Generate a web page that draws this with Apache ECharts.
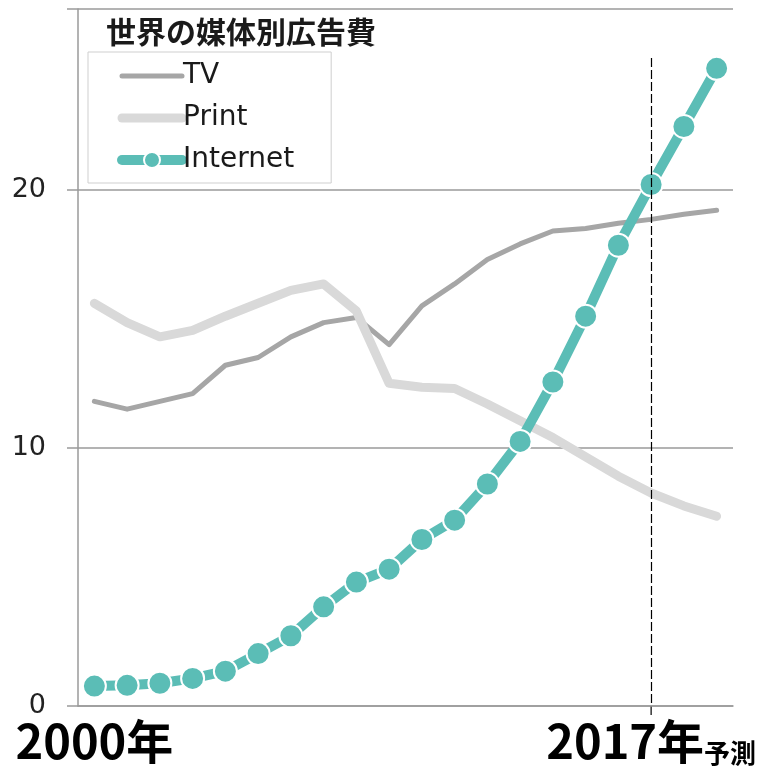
<!DOCTYPE html>
<html>
<head>
<meta charset="utf-8">
<script src="https://cdn.jsdelivr.net/npm/echarts@6/dist/echarts.min.js"></script>
<style>
  html, body { margin: 0; padding: 0; background: #fff; }
  #chart { width: 763px; height: 766px; }
</style>
</head>
<body>
<div id="chart"></div>
<script>
// 世界の媒体別広告費
const years = ['2000','2001','2002','2003','2004','2005','2006','2007','2008','2009',
               '2010','2011','2012','2013','2014','2015','2016','2017','2018','2019'];
const tvValues = [11.8, 11.5, 11.8, 12.1, 13.2, 13.5, 14.3, 14.85, 15.05, 14.0,
                  15.5, 16.35, 17.3, 17.9, 18.4, 18.5, 18.7, 18.85, 19.05, 19.2];
const printValues = [15.6, 14.85, 14.3, 14.55, 15.1, 15.6, 16.1, 16.35, 15.3, 12.5,
                     12.35, 12.3, 11.7, 11.05, 10.4, 9.65, 8.9, 8.25, 7.75, 7.35];
const internetValues = [0.77, 0.8, 0.88, 1.07, 1.35, 2.03, 2.72, 3.84, 4.8, 5.3,
                        6.45, 7.2, 8.6, 10.25, 12.55, 15.1, 17.85, 20.2, 22.45, 24.7];
const yTicks = [0, 10, 20];
const forecastYear = '2017';
const titleText = '世界の媒体別広告費';

const chart = echarts.init(document.getElementById('chart'));
const latin = '"DejaVu Sans", "Noto Sans CJK JP", sans-serif';
const cjk = '"Noto Sans CJK JP", "DejaVu Sans", sans-serif';

chart.setOption({
  animation: false,
  backgroundColor: '#ffffff',
  title: {
    text: titleText,
    left: 236, top: 12, textAlign: 'center',
    textStyle: { fontFamily: cjk, fontWeight: 'bold', fontSize: 30, color: '#1a1a1a' }
  },
  legend: {
    orient: 'vertical',
    left: 88, top: 52,
    padding: [8, 37, 7, 29],
    itemGap: 10,
    itemWidth: 60, itemHeight: 20,
    borderColor: '#cfcfcf', borderWidth: 1,
    lineStyle: { width: 'inherit', cap: 'round' },
    textStyle: { fontFamily: latin, fontSize: 28, color: '#1a1a1a', lineHeight: 32, padding: [0, 0, 0, -4] },
    data: [
      { name: 'TV', itemStyle: { opacity: 0 } },
      { name: 'Print', itemStyle: { opacity: 0 } },
      { name: 'Internet' }
    ]
  },
  grid: { left: 78, right: 30, top: 9, bottom: 54, containLabel: false },
  xAxis: {
    type: 'category',
    data: years,
    boundaryGap: true,
    axisLine: { show: true, lineStyle: { color: '#9a9a9a', width: 1.5 } },
    axisTick: { show: false },
    axisLabel: {
      interval: 0,
      margin: 10,
      formatter: function (v) {
        if (v === years[0]) return '{big|' + v + '年}';
        if (v === forecastYear) return '{big|' + v + '年}{small|予測}';
        return '';
      },
      rich: {
        big: { fontFamily: cjk, fontWeight: 'bold', fontSize: 47, color: '#000', lineHeight: 50 },
        small: { fontFamily: cjk, fontWeight: 'bold', fontSize: 26, color: '#000', verticalAlign: 'bottom', lineHeight: 40 }
      }
    }
  },
  yAxis: {
    type: 'value',
    min: 0, max: 27, interval: 10,
    axisLine: { show: true, lineStyle: { color: '#9a9a9a', width: 1.5 } },
    axisTick: { show: true, inside: false, length: 11, lineStyle: { color: '#9a9a9a', width: 1.5 } },
    splitLine: { show: true, lineStyle: { color: '#9a9a9a', width: 1.5 } },
    axisLabel: {
      margin: 32,
      fontFamily: latin, fontSize: 27, color: '#222',
      padding: [0, 0, 8, 0],
      formatter: function (v) { return yTicks.indexOf(v) >= 0 ? String(v) : ''; }
    }
  },
  series: [
    {
      name: 'TV', type: 'line', data: tvValues,
      symbol: 'none', z: 2,
      color: '#a6a6a6',
      lineStyle: { color: '#a6a6a6', width: 5, cap: 'round', join: 'round' },
      markLine: {
        silent: true, symbol: 'none', label: { show: false },
        lineStyle: { color: '#000', width: 1.2, type: [9, 3] },
        data: [[
          { coord: [forecastYear, 25.1] },
          { coord: [forecastYear, 0] }
        ]]
      }
    },
    {
      name: 'Print', type: 'line', data: printValues,
      symbol: 'none', z: 3,
      color: '#d9d9d9',
      lineStyle: { color: '#d9d9d9', width: 9, cap: 'round', join: 'round' }
    },
    {
      name: 'Internet', type: 'line', data: internetValues,
      symbol: 'circle', symbolSize: 23, z: 4,
      color: '#5bbdb6',
      lineStyle: { color: '#5bbdb6', width: 10, cap: 'round', join: 'round' },
      itemStyle: { color: '#5bbdb6', borderColor: '#ffffff', borderWidth: 2 }
    }
  ]
});

// carry the 2017 divider a few pixels below the baseline
const divider = chart.convertToPixel({ xAxisIndex: 0, yAxisIndex: 0 }, [forecastYear, 0]);
chart.setOption({
  graphic: [{
    type: 'line', silent: true,
    shape: { x1: divider[0], y1: divider[1], x2: divider[0], y2: divider[1] + 9 },
    style: { stroke: '#000', lineWidth: 1.2 }
  }]
});
</script>
</body>
</html>
